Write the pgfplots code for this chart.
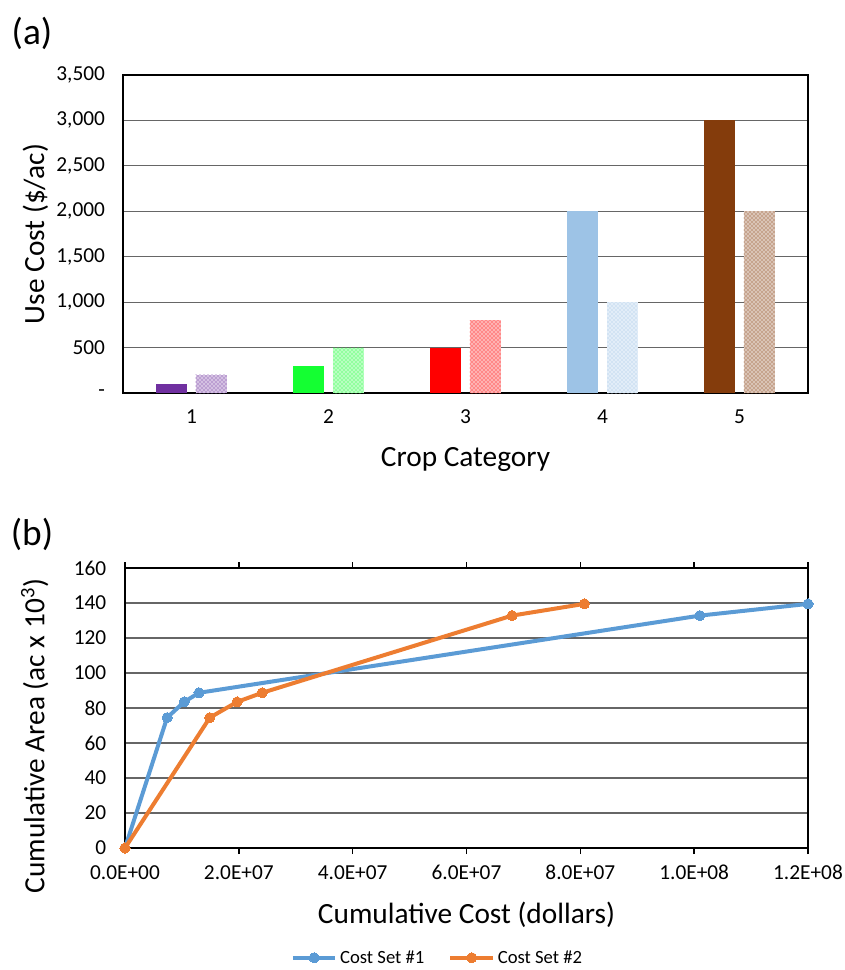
\documentclass[border=0pt]{standalone}
\usepackage{fontspec}
\setmainfont{Carlito}
\usepackage{pgfplots}
\pgfplotsset{compat=1.18}
\usetikzlibrary{patterns}
\definecolor{cPurple}{RGB}{112,48,160}
\definecolor{cGreen}{RGB}{20,255,50}
\definecolor{cRed}{RGB}{255,0,0}
\definecolor{cLblue}{RGB}{157,195,230}
\definecolor{cBrown}{RGB}{132,60,12}
\definecolor{cBlue}{RGB}{91,155,213}
\definecolor{cOrange}{RGB}{237,125,49}
\begin{document}
\begin{tikzpicture}
\useasboundingbox (0,0) rectangle (633pt,-727.5pt);
\node[font=\fontsize{28}{32}\selectfont] at (24pt,-24.75pt) {(a)};
\node[font=\fontsize{28}{32}\selectfont] at (24pt,-401pt) {(b)};
\begin{axis}[
  at={(92.25pt,-294.75pt)}, anchor=south west, scale only axis,
  width=513.75pt, height=238.5pt,
  xmin=0.5, xmax=5.5, ymin=0, ymax=3500,
  /pgf/number format/assume math mode=true,
  xtick={1,2,3,4,5}, ytick={0,500,1000,1500,2000,2500,3000,3500},
  yticklabels={{-\hspace{13pt}},500,{1,000},{1,500},{2,000},{2,500},{3,000},{3,500}},
  major tick length=0pt,
  ymajorgrids, grid style={color=black!60, line width=0.9pt},
  axis line style={line width=1.1pt},
  tick label style={font=\fontsize{16}{19}\selectfont},
  yticklabel style={xshift=-10pt},
  xticklabel style={yshift=-9pt},
  ybar, bar width=0.226,
  xlabel={Crop Category}, ylabel={Use Cost (\$/ac)},
  label style={font=\fontsize{22}{26}\selectfont},
  xlabel style={at={(axis description cs:0.5,-0.21)}, anchor=center},
  ylabel style={at={(axis description cs:-0.128,0.5)}, anchor=center},
]
\addplot[fill=cPurple, draw=none, bar shift=-0.144] coordinates {(1,100)};
\addplot[fill=cPurple!30, draw=none, bar shift=0.144, postaction={pattern=crosshatch dots, pattern color=cPurple}] coordinates {(1,200)};
\addplot[fill=cGreen, draw=none, bar shift=-0.144] coordinates {(2,300)};
\addplot[fill=cGreen!30, draw=none, bar shift=0.144, postaction={pattern=crosshatch dots, pattern color=cGreen}] coordinates {(2,500)};
\addplot[fill=cRed, draw=none, bar shift=-0.144] coordinates {(3,500)};
\addplot[fill=cRed!30, draw=none, bar shift=0.144, postaction={pattern=crosshatch dots, pattern color=cRed}] coordinates {(3,800)};
\addplot[fill=cLblue, draw=none, bar shift=-0.144] coordinates {(4,2000)};
\addplot[fill=cLblue!30, draw=none, bar shift=0.144, postaction={pattern=crosshatch dots, pattern color=cLblue}] coordinates {(4,1000)};
\addplot[fill=cBrown, draw=none, bar shift=-0.144] coordinates {(5,3000)};
\addplot[fill=cBrown!30, draw=none, bar shift=0.144, postaction={pattern=crosshatch dots, pattern color=cBrown}] coordinates {(5,2000)};
\end{axis}
\begin{axis}[
  at={(93.75pt,-636pt)}, anchor=south west, scale only axis,
  width=512.25pt, height=210pt,
  xmin=0, xmax=1.2e8, ymin=0, ymax=160,
  /pgf/number format/assume math mode=true,
  xtick={0,2e7,4e7,6e7,8e7,1e8,1.2e8},
  xticklabels={0.0E+00,2.0E+07,4.0E+07,6.0E+07,8.0E+07,1.0E+08,1.2E+08},
  scaled x ticks=false,
  ytick={0,20,40,60,80,100,120,140,160},
  tick align=outside, major tick length=4.5pt,
  xtick style={black, line width=1.1pt},
  ytick style={draw=none},
  ymajorgrids, grid style={color=black!60, line width=0.9pt},
  axis line style={line width=1.1pt},
  tick label style={font=\fontsize{16}{19}\selectfont},
  yticklabel style={xshift=-6pt},
  xticklabel style={yshift=-5pt},
  xlabel={Cumulative Cost (dollars)}, ylabel={Cumulative Area (ac x 10\textsuperscript{3})},
  label style={font=\fontsize{22}{26}\selectfont},
  xlabel style={at={(axis description cs:0.5,-0.239)}, anchor=center},
  ylabel style={at={(axis description cs:-0.132,0.4)}, anchor=center},
  clip=false,
  legend style={at={(axis description cs:0.458,-0.392)}, anchor=center, draw=none,
    font=\fontsize{14}{17}\selectfont, /tikz/every even column/.append style={column sep=16pt}},
  legend columns=2,
  legend image code/.code={\draw[mark repeat=2,mark phase=2] plot coordinates {(0pt,0pt) (16pt,0pt) (32pt,0pt)};},
]
\addplot[color=cBlue, line width=3pt, mark=*, mark size=3.8pt, mark options={line width=0pt}] coordinates {
  (0,0) (7.4e6,74.5) (1.04e7,83.5) (1.3e7,88.7) (1.01e8,132.8) (1.2e8,139.5)};
\addlegendentry{Cost Set \#1}
\addplot[color=cOrange, line width=3pt, mark=*, mark size=3.8pt, mark options={line width=0pt}] coordinates {
  (0,0) (1.49e7,74.5) (1.97e7,83.5) (2.41e7,88.7) (6.8e7,132.8) (8.07e7,139.5)};
\addlegendentry{Cost Set \#2}
\end{axis}
\end{tikzpicture}
\end{document}
